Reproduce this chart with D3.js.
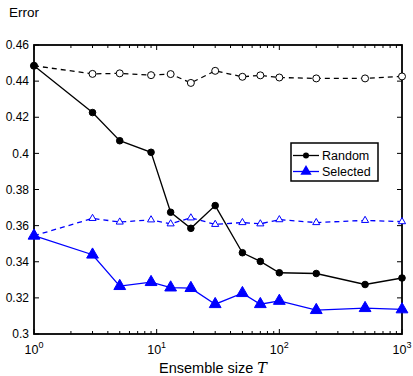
<!DOCTYPE html>
<html>
<head>
<meta charset="utf-8">
<script src="https://cdn.jsdelivr.net/npm/d3@7"></script>
<style>
  body { margin: 0; background: #fff; }
  text { font-family: "Liberation Sans", Arial, sans-serif; }
</style>
</head>
<body>
<div id="chart"></div>
<script>
// data
const sizes = [1, 3, 5, 9, 13, 19, 30, 50, 70, 100, 200, 500, 1000];
const randomErr = [0.4485, 0.4226, 0.407, 0.4006, 0.3674, 0.3585, 0.3711, 0.345, 0.3402, 0.3339, 0.3335, 0.3274, 0.331];
const randomRef = [0.4485, 0.444, 0.4443, 0.4433, 0.4439, 0.439, 0.4457, 0.4424, 0.4432, 0.442, 0.4415, 0.4415, 0.4426];
const selectedErr = [0.3544, 0.3439, 0.3265, 0.3287, 0.3257, 0.3254, 0.3165, 0.3226, 0.3165, 0.3183, 0.3132, 0.3143, 0.3136];
const selectedRef = [0.3544, 0.364, 0.362, 0.3632, 0.361, 0.3643, 0.3607, 0.3617, 0.361, 0.3633, 0.3617, 0.3629, 0.3622];
const yTicks = [0.3, 0.32, 0.34, 0.36, 0.38, 0.4, 0.42, 0.44, 0.46];
const xTicks = [1, 10, 100, 1000];

// set the dimensions and margins of the graph
const margin = { top: 45, right: 11, bottom: 42, left: 34 },
  width = 413 - margin.left - margin.right,
  height = 376 - margin.top - margin.bottom;

const svg = d3.select("#chart")
  .append("svg")
  .attr("width", 413)
  .attr("height", 376)
  .append("g")
  .attr("transform", `translate(${margin.left},${margin.top})`);

const x = d3.scaleLog().domain([1, 1000]).range([0, width]);
const y = d3.scaleLinear().domain([0.3, 0.46]).range([height, 0]);

// minor ticks for the log axis
const minor = [];
[1, 10, 100].forEach(d => { for (let k = 2; k <= 9; k++) minor.push(d * k); });

const tickLen = 5, minorLen = 3;
const axes = svg.append("g").attr("stroke", "#000").attr("stroke-width", 1);

// major x ticks, bottom and top
xTicks.forEach(t => {
  axes.append("line").attr("x1", x(t)).attr("x2", x(t)).attr("y1", height).attr("y2", height - tickLen);
  axes.append("line").attr("x1", x(t)).attr("x2", x(t)).attr("y1", 0).attr("y2", tickLen);
});
minor.forEach(t => {
  axes.append("line").attr("x1", x(t)).attr("x2", x(t)).attr("y1", height).attr("y2", height - minorLen);
  axes.append("line").attr("x1", x(t)).attr("x2", x(t)).attr("y1", 0).attr("y2", minorLen);
});
yTicks.forEach(t => {
  axes.append("line").attr("x1", 0).attr("x2", tickLen).attr("y1", y(t)).attr("y2", y(t));
  axes.append("line").attr("x1", width).attr("x2", width - tickLen).attr("y1", y(t)).attr("y2", y(t));
});

// box
svg.append("rect")
  .attr("x", 0).attr("y", 0)
  .attr("width", width).attr("height", height)
  .attr("fill", "none").attr("stroke", "#000").attr("stroke-width", 1.8);

// y tick labels
svg.selectAll(".ylab")
  .data(yTicks)
  .join("text")
  .attr("x", -5)
  .attr("y", d => y(d))
  .attr("dy", "0.35em")
  .attr("text-anchor", "end")
  .style("font-size", "12px")
  .text(d => d3.format("")(+d.toFixed(2)));

// x tick labels 10^k
const xl = svg.selectAll(".xlab")
  .data(xTicks)
  .join("text")
  .attr("x", d => x(d))
  .attr("y", height + 20)
  .attr("text-anchor", "middle")
  .style("font-size", "12.5px");
xl.append("tspan").text("10");
xl.append("tspan").attr("dy", -6).style("font-size", "9px").text(d => Math.round(Math.log10(d)));

// axis titles
svg.append("text")
  .attr("x", -25).attr("y", -28)
  .style("font-size", "13.5px")
  .text("Error");
const xt = svg.append("text")
  .attr("x", 213 - margin.left).attr("y", height + 39)
  .attr("text-anchor", "middle")
  .style("font-size", "14.5px");
xt.append("tspan").text("Ensemble size ");
xt.append("tspan").style("font-family", "'DejaVu Serif', serif").style("font-style", "italic").text("T");

// lines
const line = d3.line().x(d => x(d[0])).y(d => y(d[1]));
const series = [
  { vals: randomRef, color: "#000", dash: "5,4", marker: "circle", fill: false },
  { vals: selectedRef, color: "#0000ff", dash: "5,4", marker: "triangle", fill: false },
  { vals: randomErr, color: "#000", dash: null, marker: "circle", fill: true },
  { vals: selectedErr, color: "#0000ff", dash: null, marker: "triangle", fill: true }
];

const triSym = (s) => d3.symbol().type(d3.symbolTriangle).size(s)();

series.forEach(s => {
  const pts = sizes.map((t, i) => [t, s.vals[i]]);
  svg.append("path")
    .datum(pts)
    .attr("d", line)
    .attr("fill", "none")
    .attr("stroke", s.color)
    .attr("stroke-width", 1.3)
    .attr("stroke-dasharray", s.dash);
  const g = svg.append("g");
  if (s.marker === "circle") {
    g.selectAll("circle")
      .data(pts)
      .join("circle")
      .attr("cx", d => x(d[0]))
      .attr("cy", d => y(d[1]))
      .attr("r", s.fill ? 3.3 : 3.5)
      .attr("fill", s.fill ? s.color : "#fff")
      .attr("stroke", s.color)
      .attr("stroke-width", 1);
  } else {
    g.selectAll("path")
      .data(pts)
      .join("path")
      .attr("transform", d => `translate(${x(d[0])},${y(d[1])})`)
      .attr("d", s.fill ? triSym(60) : triSym(22))
      .attr("fill", s.fill ? s.color : "#fff")
      .attr("stroke", s.color)
      .attr("stroke-width", 1);
  }
});

// legend
const lg = svg.append("g").attr("transform", `translate(${291 - margin.left},${143 - margin.top})`);
lg.append("rect")
  .attr("width", 87).attr("height", 38)
  .attr("fill", "#fff").attr("stroke", "#000").attr("stroke-width", 1.5);
const keys = [
  { name: "Random", color: "#000", marker: "circle" },
  { name: "Selected", color: "#0000ff", marker: "triangle" }
];
keys.forEach((k, i) => {
  const yy = 12.5 + i * 16;
  lg.append("line").attr("x1", 2).attr("x2", 28).attr("y1", yy).attr("y2", yy)
    .attr("stroke", k.color).attr("stroke-width", 1.3);
  if (k.marker === "circle") {
    lg.append("circle").attr("cx", 15).attr("cy", yy).attr("r", 3).attr("fill", k.color);
  } else {
    lg.append("path").attr("transform", `translate(15,${yy})`).attr("d", triSym(55)).attr("fill", k.color);
  }
  lg.append("text").attr("x", 31).attr("y", yy).attr("dy", "0.35em")
    .style("font-size", "12.5px").text(k.name);
});
</script>
</body>
</html>
